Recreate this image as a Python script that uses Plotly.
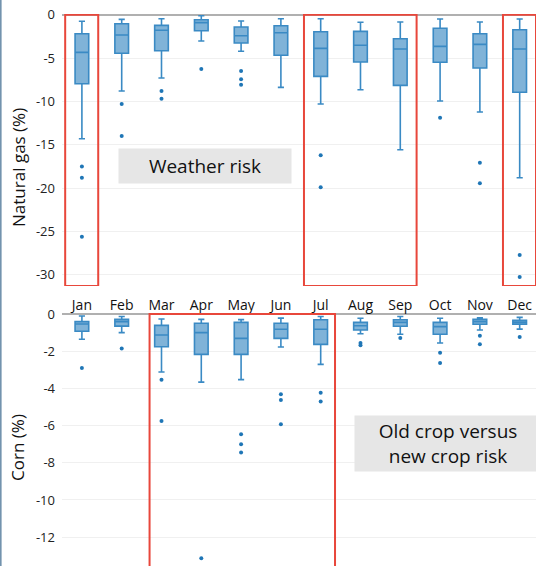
import plotly.graph_objects as go

months = ["Jan", "Feb", "Mar", "Apr", "May", "Jun", "Jul", "Aug", "Sep", "Oct", "Nov", "Dec"]

# Natural gas (%) box statistics
gas_upper = [-0.76, -0.54, -0.46, -0.12, -0.73, -0.46, -0.46, -0.88, -0.84, -0.50, -0.84, -0.50]
gas_q3 = [-2.19, -1.04, -1.23, -0.58, -1.42, -1.27, -1.96, -1.92, -2.77, -1.57, -2.19, -1.73]
gas_median = [-4.34, -2.34, -1.80, -0.92, -2.42, -2.08, -3.88, -3.53, -3.96, -3.65, -3.42, -3.96]
gas_q1 = [-7.96, -4.45, -4.15, -1.85, -3.27, -4.68, -7.11, -5.46, -8.15, -5.49, -6.15, -8.95]
gas_lower = [-14.3, -8.8, -7.3, -3.03, -4.22, -8.38, -10.3, -8.65, -15.57, -9.95, -11.22, -18.8]
gas_outlier_month = ["Jan", "Jan", "Jan", "Feb", "Feb", "Mar", "Mar", "Apr", "May", "May", "May",
                     "Jul", "Jul", "Oct", "Nov", "Nov", "Dec", "Dec"]
gas_outlier_value = [-17.5, -18.8, -25.6, -10.3, -14.0, -8.8, -9.69, -6.26, -6.5, -7.45, -8.07,
                     -16.2, -19.9, -11.88, -17.07, -19.45, -27.7, -30.25]

# Corn (%) box statistics
corn_upper = [-0.11, -0.13, -0.27, -0.29, -0.30, -0.22, -0.13, -0.23, -0.13, -0.23, -0.20, -0.18]
corn_q3 = [-0.41, -0.29, -0.61, -0.50, -0.45, -0.50, -0.31, -0.45, -0.31, -0.45, -0.29, -0.34]
corn_median = [-0.54, -0.41, -1.13, -1.00, -1.31, -0.82, -0.82, -0.63, -0.45, -0.68, -0.41, -0.45]
corn_q1 = [-0.93, -0.65, -1.76, -2.17, -2.17, -1.31, -1.63, -0.86, -0.66, -1.09, -0.55, -0.55]
corn_lower = [-1.36, -1.00, -3.12, -3.66, -3.53, -1.77, -2.71, -1.06, -1.09, -1.56, -0.86, -0.81]
corn_outlier_month = ["Jan", "Feb", "Mar", "Mar", "Apr", "May", "May", "May", "Jun", "Jun", "Jun",
                      "Jul", "Jul", "Aug", "Aug", "Sep", "Oct", "Oct", "Nov", "Nov", "Dec"]
corn_outlier_value = [-2.90, -1.86, -3.53, -5.75, -13.13, -6.47, -7.0, -7.45, -4.32, -4.62, -5.93,
                      -4.23, -4.71, -1.56, -1.68, -1.29, -2.08, -2.63, -1.17, -1.63, -1.24]

gas_ticks = [0, -5, -10, -15, -20, -25, -30]
gas_tick_labels = ["0", "-5", "-10", "-15", "-20", "-25", "-30"]
corn_ticks = [0, -2, -4, -6, -8, -10, -12]
corn_tick_labels = ["0", "-2", "-4", "-6", "-8", "-10", "-12"]

gas_highlights = [("Jan", "Jan"), ("Jul", "Sep"), ("Dec", "Dec")]
corn_highlights = [("Mar", "Jul")]

FONT = "Open Sans"
BOX_FILL = "#80b3d8"
BOX_LINE = "#3a8ac4"
DOT = "#1f76b6"
RED = "#e8473b"

fig = go.Figure()

fig.add_trace(go.Box(
    x=months, q1=gas_q1, median=gas_median, q3=gas_q3,
    lowerfence=gas_lower, upperfence=gas_upper,
    boxpoints=False, fillcolor=BOX_FILL, line=dict(color=BOX_LINE, width=1.6),
    whiskerwidth=0.45, xaxis="x", yaxis="y", showlegend=False, hoverinfo="skip"))
fig.add_trace(go.Scatter(
    x=gas_outlier_month, y=gas_outlier_value, mode="markers",
    marker=dict(color=DOT, size=4), xaxis="x", yaxis="y", showlegend=False))

fig.add_trace(go.Box(
    x=months, q1=corn_q1, median=corn_median, q3=corn_q3,
    lowerfence=corn_lower, upperfence=corn_upper,
    boxpoints=False, fillcolor=BOX_FILL, line=dict(color=BOX_LINE, width=1.6),
    whiskerwidth=0.45, xaxis="x2", yaxis="y2", showlegend=False, hoverinfo="skip"))
fig.add_trace(go.Scatter(
    x=corn_outlier_month, y=corn_outlier_value, mode="markers",
    marker=dict(color=DOT, size=4), xaxis="x2", yaxis="y2", showlegend=False))

xr = [-0.5, 11.41]
gas_range = [-31.29, 0.08]
corn_range = [-13.55, 0.054]

common_x = dict(type="category", categoryorder="array", categoryarray=months,
                range=xr, showgrid=False, zeroline=False, showline=False,
                fixedrange=True, automargin=False)
common_y = dict(showgrid=True, gridcolor="#f0f0f0", gridwidth=1,
                zeroline=True, zerolinecolor="#b0b0b0", zerolinewidth=1.5,
                showline=False, ticks="", ticklabelstandoff=6, automargin=False,
                fixedrange=True,
                tickfont=dict(family=FONT, size=13, color="#222222"))

shapes = []
for a, b in gas_highlights:
    shapes.append(dict(type="rect", xref="x", yref="y",
                       x0=months.index(a) - 0.42, x1=months.index(b) + 0.41,
                       y0=gas_range[0], y1=0, line=dict(color=RED, width=2),
                       fillcolor="rgba(0,0,0,0)", layer="above"))
for a, b in corn_highlights:
    shapes.append(dict(type="rect", xref="x2", yref="y2",
                       x0=months.index(a) - 0.30, x1=months.index(b) + 0.36,
                       y0=-14.5, y1=0, line=dict(color=RED, width=2),
                       fillcolor="rgba(0,0,0,0)", layer="above"))
# page border on the left
shapes.append(dict(type="line", xref="paper", yref="paper", x0=-0.1295, x1=-0.1295,
                   y0=-0.01, y1=1.05, line=dict(color="#7393ae", width=2)))

annotations = [
    dict(text="Weather risk", xref="x", yref="y", x=3.10, y=-17.45, showarrow=False,
         font=dict(family=FONT, size=19, color="#111111"), bgcolor="#e6e6e6",
         width=172, height=34, borderpad=0),
    dict(text="Old crop versus<br>new crop risk", xref="x2", yref="y2", x=9.2, y=-6.96,
         showarrow=False, font=dict(family=FONT, size=19, color="#111111"),
         bgcolor="#e6e6e6", width=186, height=55, borderpad=0),
    dict(text="Natural gas (%)", xref="paper", yref="paper", x=-0.093, y=0.7228,
         xanchor="center", yanchor="middle",
         showarrow=False, textangle=-90, font=dict(family=FONT, size=17, color="#111111")),
    dict(text="Corn (%)", xref="paper", yref="paper", x=-0.093, y=0.2156,
         xanchor="center", yanchor="middle",
         showarrow=False, textangle=-90, font=dict(family=FONT, size=17, color="#111111")),
]

fig.update_layout(
    width=536, height=566,
    margin=dict(l=62, r=0, t=14, b=0, pad=0, autoexpand=False),
    paper_bgcolor="white", plot_bgcolor="white",
    boxgap=0.51,
    xaxis=dict(**common_x, domain=[0, 1], anchor="y", showticklabels=False),
    yaxis=dict(**common_y, domain=[0.5072, 1.0], range=gas_range, tickvals=gas_ticks,
               ticktext=gas_tick_labels, anchor="x"),
    xaxis2=dict(**common_x, domain=[0, 1], anchor="y2", side="top", showticklabels=True,
                ticks="", ticklabelstandoff=-1,
                tickfont=dict(family=FONT, size=14, color="#111111")),
    yaxis2=dict(**common_y, domain=[0.0, 0.4583], range=corn_range, tickvals=corn_ticks,
                ticktext=corn_tick_labels, anchor="x2"),
    shapes=shapes,
    annotations=annotations,
)

fig.write_html("out.html", config={"displayModeBar": False},
               post_script="document.body.style.margin='0';")
